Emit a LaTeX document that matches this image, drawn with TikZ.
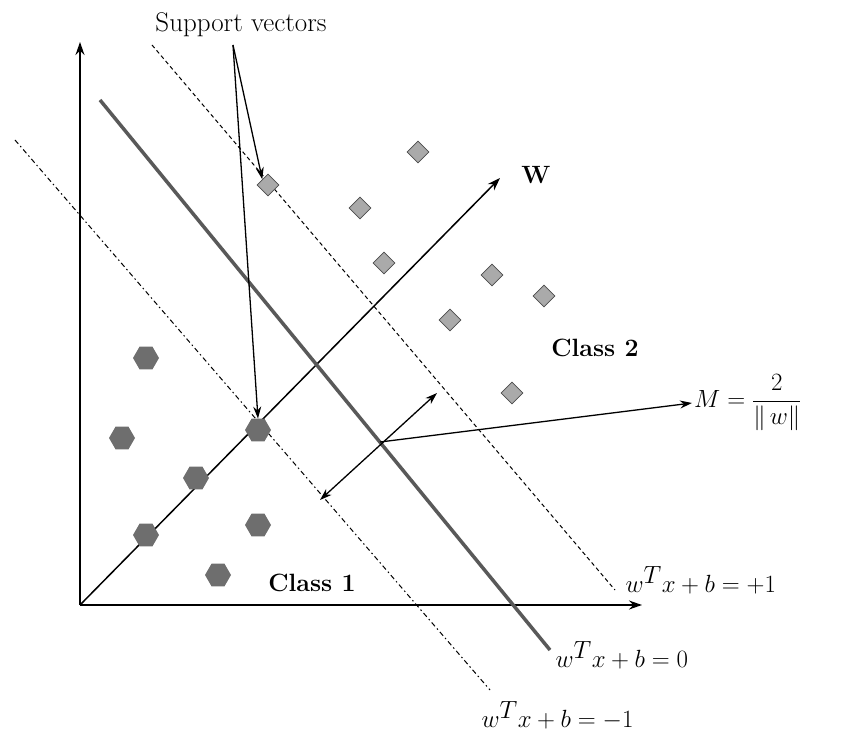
\documentclass[tikz,border=0pt]{standalone}
\usepackage{amsmath}
\usepackage{xcolor}
\usetikzlibrary{arrows.meta,shapes,calc}
\definecolor{diamgray}{RGB}{170,170,170}
\definecolor{hexgray}{RGB}{110,110,110}
\begin{document}
\begin{tikzpicture}[x=1pt,y=-1pt]
            \tikzset{axis/.style = {-{Stealth[length=13pt,width=9pt]}, line width=1.5pt}}
            \tikzset{tip/.style = {-{Stealth[length=12pt,width=8pt]}, line width=1.3pt}}
            \tikzset{cls2/.style = {diamond, draw=black!70, line width=0.8pt, fill=diamgray, inner sep=0pt, minimum size=22pt}}
            \tikzset{cls1/.style = {regular polygon, regular polygon sides=6, fill=hexgray, inner sep=0pt, minimum size=26pt}}
            \tikzset{lbl/.style = {font=\fontsize{34}{38}\selectfont}}
            \tikzset{bold/.style = {font=\fontsize{25}{28}\selectfont\bfseries}}
            \useasboundingbox (0,0) rectangle (851,746);

            % axes
            \coordinate (o) at (80,605);
            \coordinate (ytop) at (80,42);
            \coordinate (xend) at (642,605);
            \coordinate (wend) at (500,178);
            \draw[axis] (o) -- (ytop);
            \draw[axis] (o) -- (xend);
            \draw[axis] (o) -- (wend);
            \node[bold] (w) at (536,175) {W};

            % hyperplanes
            \coordinate (h0a) at (100,100);
            \coordinate (h0b) at (550,650);
            \coordinate (hpa) at (152,45);
            \coordinate (hpb) at (615,590);
            \coordinate (hma) at (15,140);
            \coordinate (hmb) at (490,690);
            \draw[line width=3.5pt, black!65] (h0a) -- (h0b);
            \draw[line width=1pt, dash pattern=on 4pt off 3pt] (hpa) -- (hpb);
            \draw[line width=1pt, dash pattern=on 5pt off 3pt on 1.5pt off 3pt] (hma) -- (hmb);
            \node[lbl, anchor=west] (eqp) at (622,580) {$w^T x+b=+1$};
            \node[lbl, anchor=west] (eq0) at (552,655) {$w^T x+b=0$};
            \node[lbl, anchor=west] (eqm) at (478,716) {$w^T x+b=-1$};

            % class 2
            \foreach \n/\x/\y in {a/268/185,b/418/152,c/360/208,d/384/263,e/492/275,f/544/296,g/450/320,h/512/393}
            {
              \node[cls2] (d\n) at (\x,\y) {};
            }
            % class 1
            \foreach \n/\x/\y in {a/146/358,b/122/438,c/196/478,d/258/430,e/146/535,f/258/525,g/218/575}
            {
              \node[cls1] (p\n) at (\x,\y) {};
            }
            \node[bold] (c2) at (595,348) {Class 2};
            \node[bold] (c1) at (312,583) {Class 1};

            % support vectors
            \node[font=\fontsize{27}{30}\selectfont] (sv) at (241,25) {Support vectors};
            \coordinate (svo) at (233,45);
            \draw[tip] (svo) -- (da.north west);
            \draw[tip] (svo) -- (pd.north);

            % margin
            \coordinate (ma) at (320,500);
            \coordinate (mb) at (437,393);
            \coordinate (mc) at (380,442);
            \draw[{Stealth[length=12pt,width=8pt]}-{Stealth[length=12pt,width=8pt]}, line width=1.3pt] (ma) -- (mb);
            \node[font=\fontsize{30}{34}\selectfont, anchor=west, inner sep=2pt] (m) at (692,403) {$M=\dfrac{2}{\|\,w\|}$};
            \draw[tip] (mc) -- (m.west);
\end{tikzpicture}
\end{document}
